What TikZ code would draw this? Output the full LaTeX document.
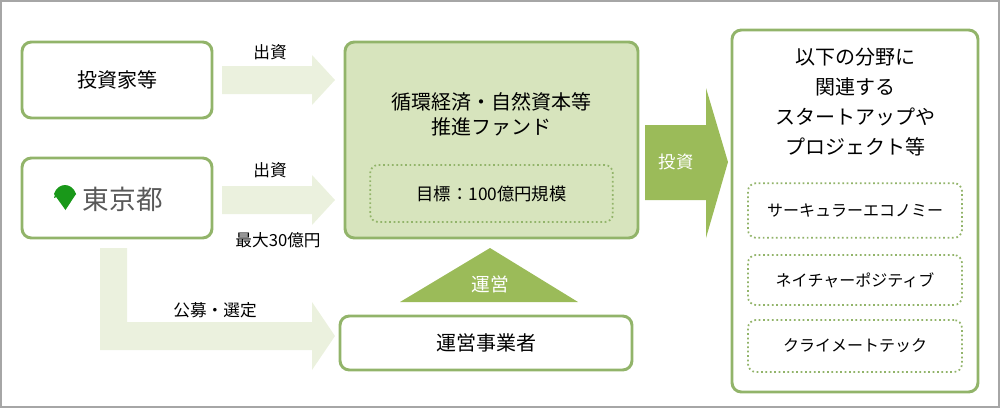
\documentclass[tikz,border=0pt]{standalone}
\usepackage{fontspec}
\setmainfont{Noto Sans CJK JP}
\begin{document}
\begin{tikzpicture}[x=0.75pt,y=-0.75pt,
  gbox/.style={draw=gborder,line width=2.2pt,rounded corners=7pt,fill=white},
  dotbox/.style={draw=gborder,line width=1.3pt,dotted,rounded corners=6pt},
  big/.style={font=\fontsize{15}{19}\selectfont},
  small/.style={font=\fontsize{12}{15}\selectfont},
  lbl/.style={font=\fontsize{12.5}{15}\selectfont}]
\definecolor{gborder}{HTML}{92B46A}
\definecolor{lightg}{HTML}{EBF1DE}
\definecolor{fundg}{HTML}{D7E4BD}
\definecolor{darkg}{HTML}{9BBB59}
\useasboundingbox (0,0) rectangle (1000,408);
\draw[gray!70,line width=1.5pt] (1,1) rectangle (999,407);
% light arrows
\fill[lightg] (222,66)--(312,66)--(312,55)--(335,80)--(312,105)--(312,94)--(222,94)--cycle;
\fill[lightg] (222,186)--(312,186)--(312,175)--(335,200)--(312,225)--(312,214)--(222,214)--cycle;
\fill[lightg] (100,248)--(127,248)--(127,322)--(312,322)--(312,302)--(335,336)--(312,370)--(312,350)--(100,350)--cycle;
\node[lbl] (l1) at (270,52) {出資};
\node[lbl] (l2) at (270,170) {出資};
\node[lbl] (l3) at (278,240) {最大30億円};
\node[lbl] (l4) at (215,310) {公募・選定};
% left boxes
\node[gbox,minimum width=142.5pt,minimum height=57pt] (inv) at (117,80) {};
\node[big] at (inv) {投資家等};
\node[gbox,minimum width=142.5pt,minimum height=60pt] (tokyo) at (117,198) {};
\fill[green!55!black!90] (54,198) .. controls (56,186) and (70,184) .. (76,194) -- (66,194) -- (66,208) -- (64,208) -- (64,194) -- cycle;
\fill[white] (63,196) -- (67,196) -- (65.5,210) -- (64.5,210) -- cycle;
\fill[green!55!black!90] (54,194) .. controls (58,182) and (72,182) .. (76,194) -- (65,196) -- cycle;
\fill[green!55!black!90] (54,194) -- (76,194) -- (65.5,210) -- cycle;
\node[font=\fontsize{20}{24}\selectfont,text=black!65,anchor=west] (tk) at (78,199) {東京都};
% fund
\node[gbox,fill=fundg,minimum width=219.75pt,minimum height=147pt] (fund) at (491.5,140) {};
\node[big,align=center] (ft) at (491.5,114) {循環経済・自然資本等\\推進ファンド};
\node[dotbox,minimum width=182pt,minimum height=42.75pt] (goal) at (491.5,193.5) {};
\node[small,font=\fontsize{13}{15}\selectfont] at (goal) {目標：100億円規模};
% triangle
\fill[darkg] (490,248) -- (578,302) -- (400,302) -- cycle;
\node[font=\fontsize{14}{16}\selectfont,text=white] (un) at (490,284) {運営};
\node[gbox,minimum width=219pt,minimum height=40.5pt] (op) at (486,343) {};
\node[big] at (op) {運営事業者};
% invest arrow
\fill[darkg] (645,125) -- (706,125) -- (706,88) -- (728,162) -- (706,238) -- (706,200) -- (645,200) -- cycle;
\node[font=\fontsize{13}{15}\selectfont,text=white] (tz) at (676,162) {投資};
% right
\node[gbox,minimum width=184.5pt,minimum height=271.5pt] (right) at (855,211) {};
\node[big,align=center,font=\fontsize{15}{22.5}\selectfont] (rt) at (855,102) {以下の分野に\\関連する\\スタートアップや\\プロジェクト等};
\node[dotbox,minimum width=160.5pt,minimum height=41pt] (d1) at (855,210.5) {};
\node[small] at (d1) {サーキュラーエコノミー};
\node[dotbox,minimum width=160.5pt,minimum height=37.5pt] (d2) at (855,280) {};
\node[small] at (d2) {ネイチャーポジティブ};
\node[dotbox,minimum width=160.5pt,minimum height=39pt] (d3) at (855,346) {};
\node[small] at (d3) {クライメートテック};
\end{tikzpicture}
\end{document}
